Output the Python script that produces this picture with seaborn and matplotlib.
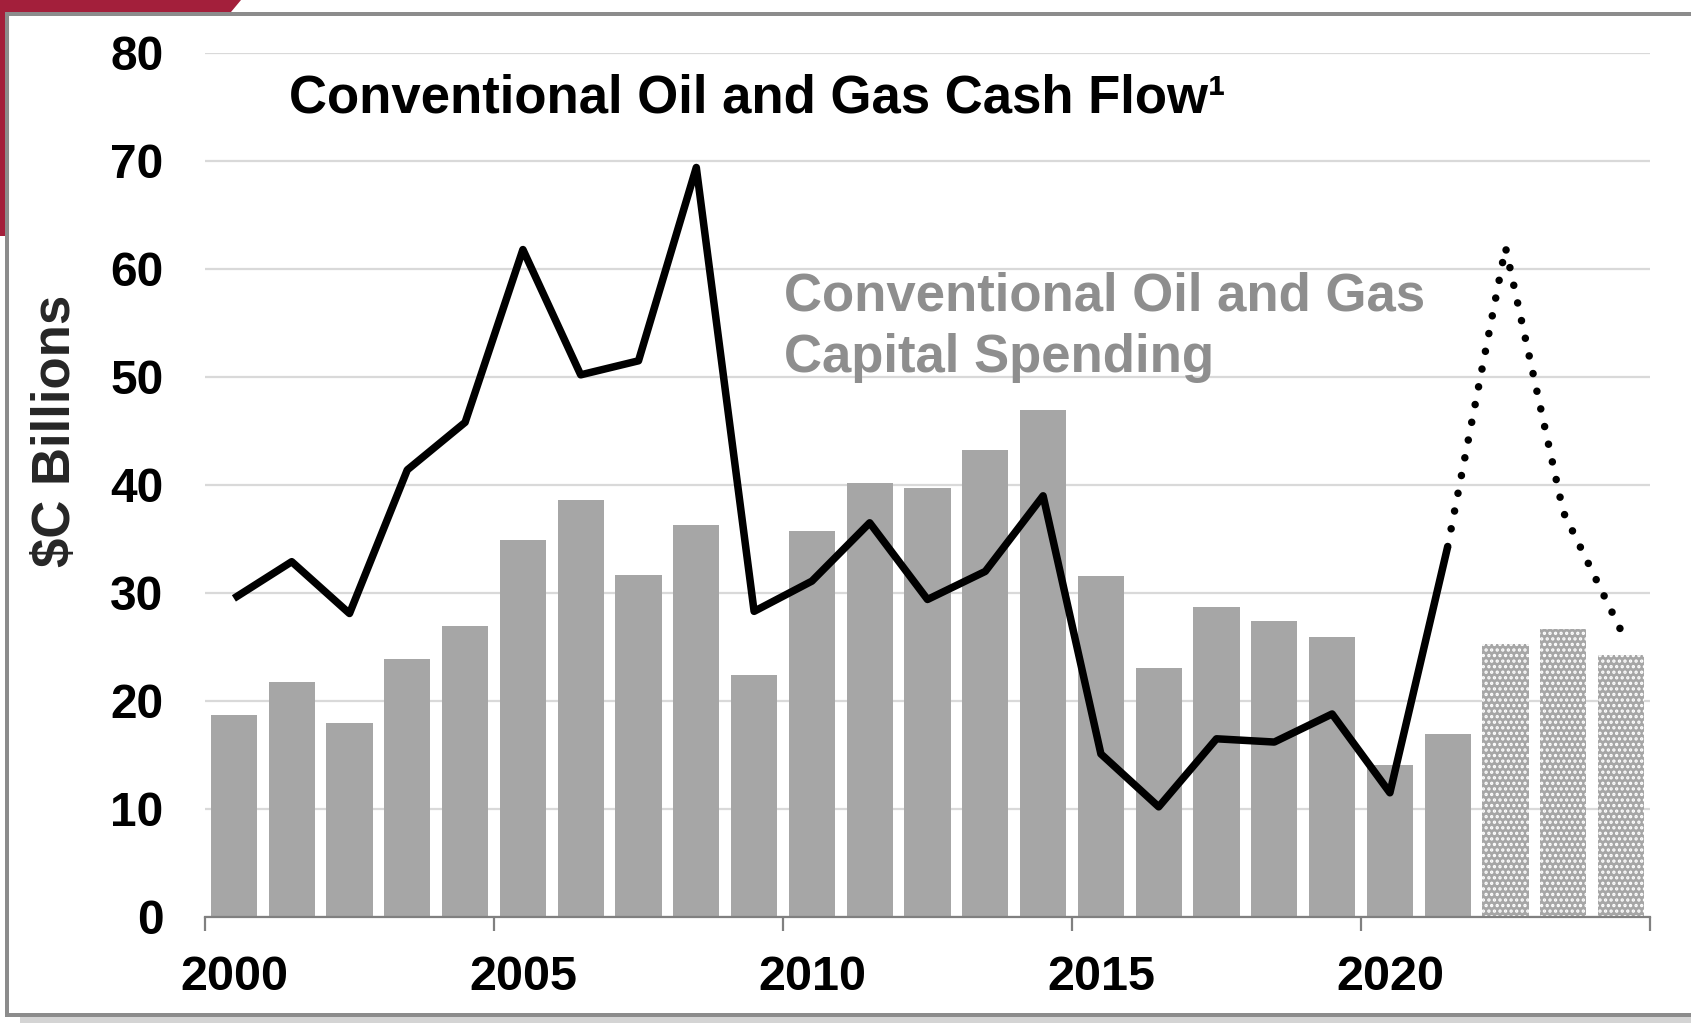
import matplotlib
matplotlib.use("Agg")
import matplotlib.pyplot as plt
from matplotlib.patches import Rectangle, Polygon
import seaborn as sns
import pandas as pd

# Annual figures, $C billions
years = [str(y) for y in range(2000, 2025)]
capital_spending = [18.7, 21.8, 18.0, 23.9, 26.9, 34.9, 38.6, 31.7, 36.3, 22.4,
                    35.7, 40.2, 39.7, 43.2, 46.9, 31.6, 23.1, 28.7, 27.4, 25.9,
                    14.1, 16.9, 25.3, 26.7, 24.3]
cash_flow = [29.5, 32.9, 28.1, 41.4, 45.8, 61.8, 50.2, 51.5, 69.4, 28.3,
             31.1, 36.5, 29.4, 32.0, 39.0, 15.1, 10.2, 16.5, 16.2, 18.8,
             11.5, 34.3, 62.0, 37.5, 26.5]
n_actual = 22  # 2000-2021 reported, 2022-2024 forecast
tick_labels = ["2000", "2005", "2010", "2015", "2020"]

sns.set_theme(style="white")
plt.rcParams["font.family"] = ["Liberation Sans", "DejaVu Sans"]
plt.rcParams["font.weight"] = "bold"
plt.rcParams["hatch.linewidth"] = 1.6

BAR = "#a6a6a6"
GRID = "#d9d9d9"
FRAME = "#8c8c8c"

fig = plt.figure(figsize=(16.91, 10.23), dpi=100)
ax = fig.add_axes([205 / 1691, 1 - 917 / 1023, 1445 / 1691, 864 / 1023])

df = pd.DataFrame({"year": years, "capex": capital_spending})
sns.barplot(data=df, x="year", y="capex", color=BAR, saturation=1,
            width=0.8, ax=ax, zorder=2)
for i, patch in enumerate(ax.patches):
    patch.set_edgecolor("none")
    if i >= n_actual:
        patch.set_hatch("...")
        patch.set_edgecolor("white")
        patch.set_linewidth(0)

idx = list(range(len(years)))
line_df = pd.DataFrame({"x": idx, "cf": cash_flow})
sns.lineplot(data=line_df.iloc[:n_actual], x="x", y="cf", color="black",
             linewidth=5.4, ax=ax, zorder=4, solid_capstyle="butt")
ax.plot(idx[n_actual - 1:], cash_flow[n_actual - 1:], color="black",
        linewidth=5.4, linestyle=(0, (0.01, 2.4)),
        dash_capstyle="round", zorder=4)

ax.set_xlim(-0.5, len(years) - 0.5)
ax.set_ylim(0, 80)
ax.set_yticks(range(0, 81, 10))
# tick marks on year boundaries, labels centred on the bars
ax.set_xticks([i - 0.5 for i in range(0, 26, 5)])
ax.set_xticklabels([""] * 6)
ax.set_xticks(list(range(0, 25, 5)), minor=True)
ax.set_xticklabels(tick_labels, minor=True)
ax.yaxis.grid(True, color=GRID, linewidth=1.6, zorder=0)
ax.set_axisbelow(True)
ax.set_xlabel("")
ax.set_ylabel("")
for side in ("top", "right", "left"):
    ax.spines[side].set_visible(False)
ax.spines["bottom"].set_color("#808080")
ax.spines["bottom"].set_linewidth(1.6)
ax.spines["bottom"].set_zorder(5)
ax.tick_params(axis="x", which="major", bottom=True, length=10, width=1.6,
               color="#808080")
ax.tick_params(axis="x", which="minor", bottom=False, length=0, pad=27,
               labelsize=35)
ax.tick_params(axis="y", left=False, length=0, pad=30, labelsize=34.5)
for lab in (ax.get_xticklabels(minor=True) + ax.get_yticklabels()):
    lab.set_fontweight("bold")
    lab.set_color("black")

ax.text(0.058, 0.947, "Conventional Oil and Gas Cash Flow\u00b9",
        transform=ax.transAxes, fontsize=38, fontweight="bold",
        color="black", ha="left", va="center")
ax.text(0.401, 0.683, "Conventional Oil and Gas\nCapital Spending",
        transform=ax.transAxes, fontsize=38, fontweight="bold",
        color="#8e8e8e", ha="left", va="center", linespacing=1.3)

fig.text(56 / 1691, 1 - 431 / 1023, "$C Billions", rotation=90,
         fontsize=38, fontweight="bold", ha="center", va="center")

# slide frame and corner accent
W, H = 1691, 1023
def fx(x):
    return x / W
def fy(y):
    return 1 - y / H
fig.add_artist(Rectangle((fx(20), fy(1023)), fx(1671), 6 / H,
                         transform=fig.transFigure, color="#d4d4d4", lw=0))
fig.add_artist(Polygon([(fx(0), fy(0)), (fx(241), fy(0)), (fx(231), fy(12)),
                        (fx(0), fy(12))], closed=True,
                       transform=fig.transFigure, color="#a31f3b", lw=0))
fig.add_artist(Rectangle((fx(0), fy(236)), fx(6), 236 / H,
                         transform=fig.transFigure, color="#a31f3b", lw=0))
fig.add_artist(Rectangle((fx(5), fy(1017)), fx(1686), 4 / H,
                         transform=fig.transFigure, color=FRAME, lw=0))
fig.add_artist(Rectangle((fx(5), fy(16)), fx(1686), 4 / H,
                         transform=fig.transFigure, color=FRAME, lw=0))
fig.add_artist(Rectangle((fx(5), fy(1017)), fx(3.5), 1001 / H,
                         transform=fig.transFigure, color=FRAME, lw=0))

fig.savefig("out.png", dpi=100, facecolor="white")
